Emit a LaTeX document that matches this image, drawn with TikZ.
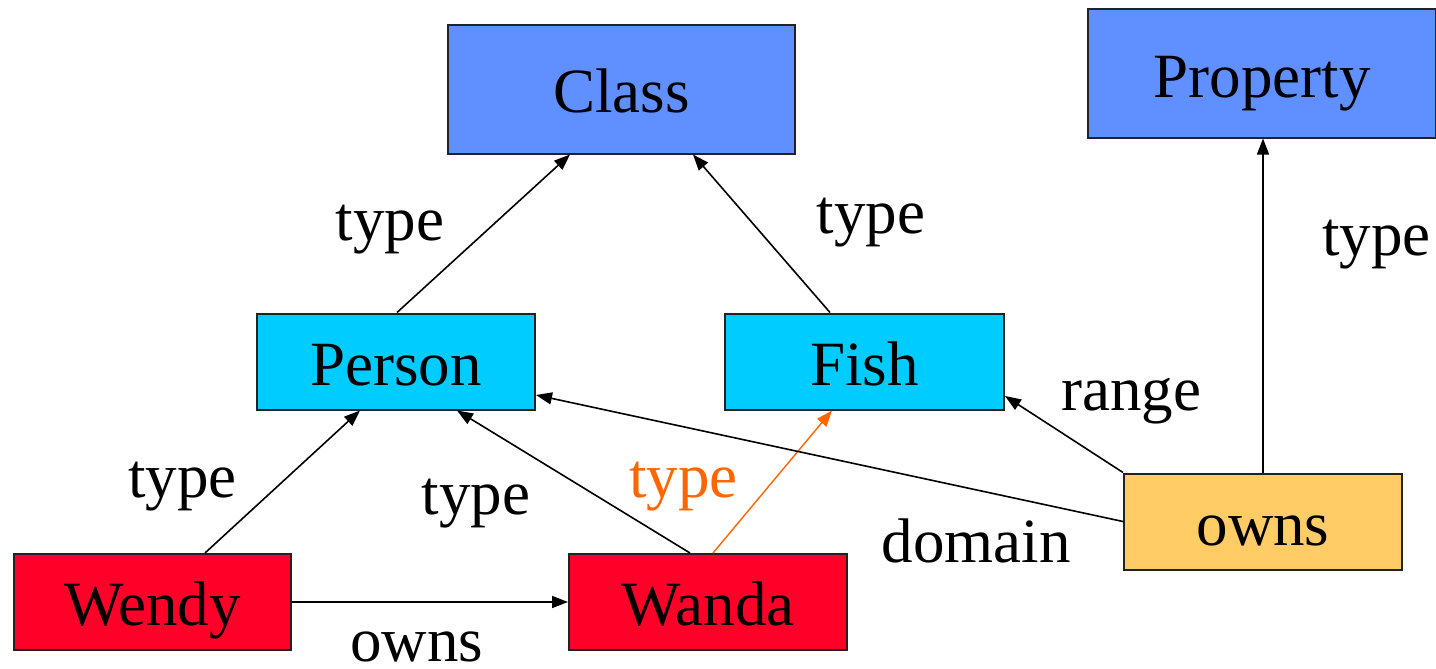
\documentclass[tikz,border=0pt]{standalone}
\usepackage{fontspec}
\setmainfont{Liberation Serif}
\usetikzlibrary{arrows.meta}

\definecolor{classblue}{RGB}{96,143,255}
\definecolor{typecyan}{RGB}{0,204,255}
\definecolor{indred}{RGB}{255,0,40}
\definecolor{propyellow}{RGB}{255,204,102}
\definecolor{hiorange}{RGB}{255,102,0}
\definecolor{boxline}{RGB}{34,34,34}

\tikzset{
  box/.style={draw=boxline, line width=2pt, rectangle, inner sep=0pt,
    text height=47pt, text depth=0pt, align=center},
  bigbox/.style={box, minimum width=347pt, minimum height=128pt},
  smallbox/.style={box, minimum width=278pt, minimum height=96pt},
  lbl/.style={anchor=base, inner sep=0pt},
  link/.style={line width=1.6pt, -{Triangle[length=16pt,width=12pt]}},
}

\begin{document}
\begin{tikzpicture}[x=1pt, y=-1pt, font=\fontsize{63}{70}\selectfont]
  \useasboundingbox (0,0) rectangle (1436,669);

  % schema level
  \node[bigbox, fill=classblue] (class) at (621.5,89.5) {Class};
  \node[bigbox, fill=classblue, minimum width=348pt] (property) at (1262,73.5) {Property};

  % classes
  \node[smallbox, fill=typecyan] (person) at (396,361.5) {Person};
  \node[smallbox, fill=typecyan, minimum width=279pt] (fish) at (864.5,361.5) {Fish};

  % property
  \node[smallbox, fill=propyellow] (owns) at (1263,521.5) {owns};

  % individuals
  \node[smallbox, fill=indred, minimum width=277pt] (wendy) at (152.5,602) {Wendy};
  \node[smallbox, fill=indred] (wanda) at (708,602) {Wanda};

  % type links
  \draw[link] ([xshift=1pt]person.north) -- ([xshift=-51.5pt]class.south);
  \draw[link] ([xshift=-34.5pt]fish.north) -- ([xshift=71.5pt]class.south);
  \draw[link] (owns.north) -- (owns.north |- property.south);
  \draw[link] ([xshift=52.5pt]wendy.north) -- ([xshift=-36pt]person.south);
  \draw[link] ([xshift=-18pt]wanda.north) -- ([xshift=61pt]person.south);
  \draw[link, draw=hiorange, fill=hiorange, line width=1.4pt]
    ([xshift=5pt]wanda.north) -- ([xshift=-32.5pt]fish.south);

  % domain, range and the owns statement
  \draw[link] (owns.west) -- ([yshift=-33.5pt]person.east);
  \draw[link] (owns.north west) -- ([yshift=-34.5pt]fish.east);
  \draw[link] (wendy.east) -- (wanda.west);

  % labels
  \node[lbl] (t1) at (390,240) {type};
  \node[lbl] (t2) at (871,233) {type};
  \node[lbl] (t3) at (1376.5,255) {type};
  \node[lbl] (t4) at (182.5,497) {type};
  \node[lbl] (t5) at (476,514) {type};
  \node[lbl, text=hiorange] (t6) at (683.5,497) {type};
  \node[lbl] (rng) at (1131,410) {range};
  \node[lbl] (dom) at (976,562) {domain};
  \node[lbl] (own) at (417,661) {owns};
\end{tikzpicture}
\end{document}
